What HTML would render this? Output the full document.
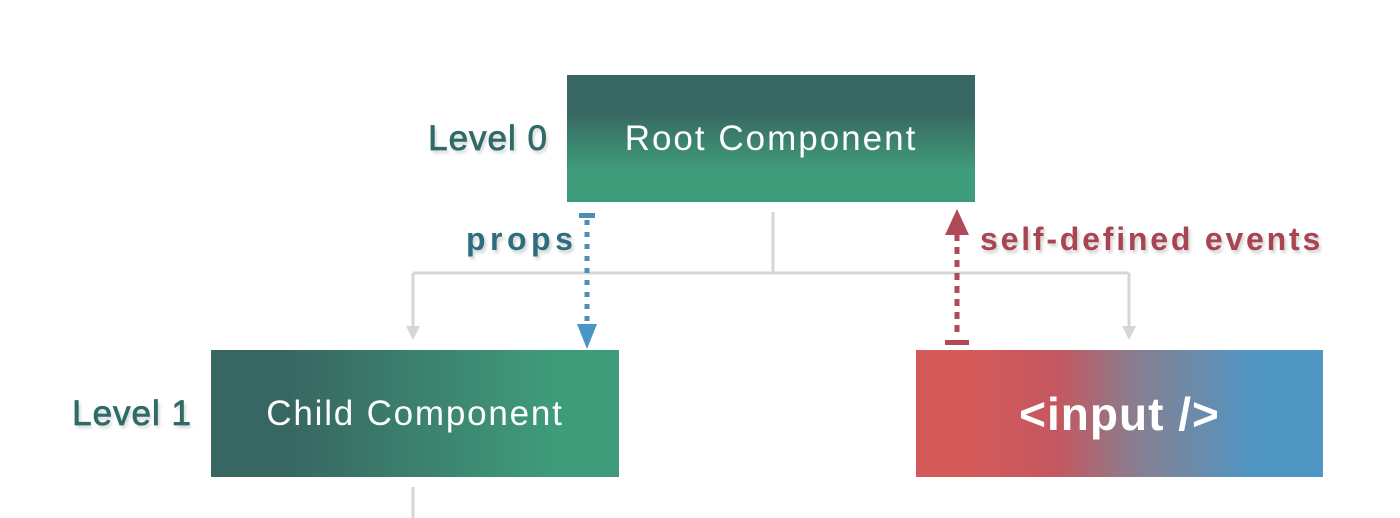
<!DOCTYPE html>
<html><head><meta charset="utf-8"><style>
body{margin:0;width:1400px;height:518px;background:#fff;position:relative;overflow:hidden;font-family:"Liberation Sans",sans-serif}
.b{position:absolute;display:flex;align-items:center;justify-content:center;color:#fff}
.lbl{position:absolute;font-weight:bold;text-shadow:2px 3px 3px rgba(0,0,0,0.18);white-space:nowrap}
</style></head><body>
<div class="b" style="left:567px;top:75px;width:408px;height:127px;background:linear-gradient(#386662 0,#386662 28%,#3f9c7a 75%,#3f9c7a 100%);font-size:35px;letter-spacing:2px">Root Component</div>
<div class="b" style="left:211px;top:350px;width:408px;height:127px;background:linear-gradient(90deg,#386662 0,#386662 18%,#3f9c7a 85%,#3f9c7a 100%);font-size:35px;letter-spacing:1.8px">Child Component</div>
<div class="b" style="left:916px;top:350px;width:407px;height:127px;background:linear-gradient(90deg,#d45a5a 0,#d45a5a 14%,#c45860 35%,#858092 55%,#4f96c3 83%,#4f96c3 100%);font-size:46px;font-weight:bold;letter-spacing:1px">&lt;input /&gt;</div>
<div class="lbl" style="right:852px;top:119px;font-size:35px;letter-spacing:1px;color:#2f6b66;font-weight:normal;-webkit-text-stroke:0.8px #2f6b66">Level 0</div>
<div class="lbl" style="right:1208px;top:394px;font-size:35px;letter-spacing:1px;color:#2f6b66;font-weight:normal;-webkit-text-stroke:0.8px #2f6b66">Level 1</div>
<div class="lbl" style="left:466px;top:221px;font-size:32px;letter-spacing:4.5px;color:#2d6e7e">props</div>
<div class="lbl" style="left:980px;top:221px;font-size:32px;letter-spacing:2.8px;color:#a84552">self-defined events</div>
<svg width="1400" height="518" style="position:absolute;left:0;top:0">
<g stroke="#d6d6d6" stroke-width="3" fill="none">
<path d="M773 212V273M413 273H1129M413 273V330M1129 273V330M413 487V518"/>
</g>
<g fill="#d6d6d6"><path d="M406 326L420 326L413 340Z"/><path d="M1122 326L1136 326L1129 340Z"/></g>
<path d="M587 220V328" stroke="#4a8fb5" stroke-width="5" stroke-dasharray="5 7"/>
<rect x="579" y="213" width="16" height="5" fill="#4a8fb5"/>
<path d="M577 324H597L587 349Z" fill="#4a96c3"/>
<path d="M957 234V338" stroke="#b04a58" stroke-width="5" stroke-dasharray="7 6"/>
<rect x="945" y="340" width="24" height="5" fill="#b04a58"/>
<path d="M945 235H969L957 209Z" fill="#b04a58"/>
</svg>
</body></html>
